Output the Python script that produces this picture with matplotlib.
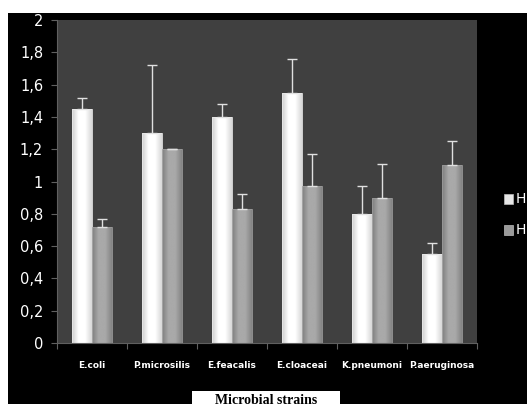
import matplotlib
matplotlib.use('Agg')
import matplotlib.pyplot as plt
import numpy as np
from matplotlib.patches import Rectangle
from matplotlib.colors import LinearSegmentedColormap

strains = ['E.coli', 'P.microsilis', 'E.feacalis', 'E.cloaceai', 'K.pneumoni', 'P.aeruginosa']
h1 = [1.45, 1.30, 1.40, 1.55, 0.80, 0.55]
h1_err = [0.07, 0.42, 0.08, 0.21, 0.17, 0.07]
h2 = [0.72, 1.20, 0.83, 0.97, 0.90, 1.10]
h2_err = [0.05, 0.0, 0.09, 0.20, 0.21, 0.15]
yticks = [0, 0.2, 0.4, 0.6, 0.8, 1, 1.2, 1.4, 1.6, 1.8, 2]
ylabels = ['0', '0,2', '0,4', '0,6', '0,8', '1', '1,2', '1,4', '1,6', '1,8', '2']

W, H = 527, 408
fig = plt.figure(figsize=(W / 100, H / 100), dpi=100)
fig.patch.set_facecolor('white')
# black chart panel
fig.patches.append(Rectangle((8 / W, 1 - 404 / H), 1 - 8 / W, (404 - 13) / H,
                             transform=fig.transFigure, facecolor='black', edgecolor='none', zorder=-5))

ax = fig.add_axes([57 / W, 1 - 343 / H, 420 / W, 323 / H])
ax.set_zorder(1)
ax.set_facecolor('#404040')

white_cm = LinearSegmentedColormap.from_list('w', ['#cfcfcf', '#ffffff', '#ffffff', '#d8d8d8'])
gray_cm = LinearSegmentedColormap.from_list('g', ['#7f7f7f', '#a9a9a9', '#a9a9a9', '#858585'])
grad = np.linspace(0, 1, 64).reshape(1, -1)

x = np.arange(len(strains))
bw = 0.28
for vals, errs, off, cm, ecol in [(h1, h1_err, -bw / 2, white_cm, '#e8e8e8'),
                                  (h2, h2_err, bw / 2, gray_cm, '#9a9a9a')]:
    bars = ax.bar(x + off, vals, bw, color='none', edgecolor=ecol, linewidth=0.6, zorder=3)
    for b in bars:
        x0, w, h = b.get_x(), b.get_width(), b.get_height()
        im = ax.imshow(grad, extent=[x0, x0 + w, 0, h], aspect='auto', cmap=cm, zorder=2)
        im.set_clip_path(b)
    ax.errorbar(x + off, vals, yerr=[np.zeros(len(vals)), errs], fmt='none',
                ecolor='#e0e0e0', elinewidth=1, capsize=3.5, capthick=1, zorder=4)

ax.set_xlim(-0.5, len(strains) - 0.5)
ax.set_ylim(0, 2)
ax.set_yticks(yticks)
ax.set_yticklabels(ylabels, color='white', fontsize=10.5)
ax.set_xticks(np.arange(len(strains) + 1) - 0.5)
ax.set_xticklabels([])
ax.set_xticks(x, minor=True)
ax.set_xticklabels(strains, minor=True, color='white', fontsize=6.5, fontweight='bold')
ax.tick_params(axis='x', which='minor', length=0, pad=13)
ax.tick_params(axis='x', which='major', length=4, color='#606060')
ax.tick_params(axis='y', length=4, color='#606060', pad=6)
for s in ['top', 'right']:
    ax.spines[s].set_visible(False)
for s in ['left', 'bottom']:
    ax.spines[s].set_color('#606060')

# legend at the right edge (labels truncated to "H" as in the source)
for yy, c in [(199, '#e6e6e6'), (230, '#9a9a9a')]:
    fig.patches.append(Rectangle((504 / W, 1 - (yy + 5) / H), 9 / W, 10 / H,
                                 transform=fig.transFigure, facecolor=c, edgecolor='#bbbbbb',
                                 linewidth=0.5, zorder=5))
    fig.text(516 / W, 1 - yy / H, 'H', color='white', fontsize=10, va='center', ha='left')

# axis title in white box
fig.patches.append(Rectangle((192 / W, 0), 148 / W, 17 / H, transform=fig.transFigure,
                             facecolor='white', edgecolor='none', zorder=5))
fig.text(266 / W, 7 / H, 'Microbial strains', family='Liberation Serif', fontweight='bold',
         fontsize=10, ha='center', va='center', color='black', zorder=6)

fig.savefig('out.png', dpi=100, facecolor=fig.get_facecolor())
